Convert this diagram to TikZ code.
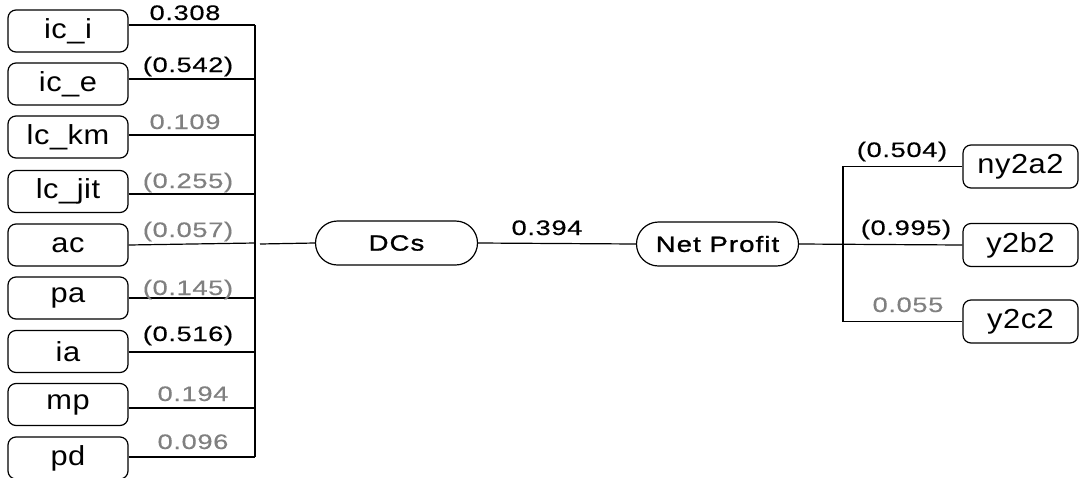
\documentclass[tikz,border=0pt]{standalone}
\usepackage{fontspec}
\usetikzlibrary{shapes.misc}
\newfontfamily\boxfont[FakeStretch=1.12,LetterSpace=2]{Liberation Sans}
\newfontfamily\latfont[FakeStretch=1.25,LetterSpace=5,FakeBold=1.2]{Liberation Sans}
\newfontfamily\wfont[FakeStretch=1.3,LetterSpace=3,FakeBold=0.4]{Liberation Sans}
\definecolor{wgray}{RGB}{128,128,128}
\tikzset{
  wire/.style={line width=1.2pt},
  factor/.style={draw, line width=1.2pt, rounded corners=8pt, minimum width=120pt,
    minimum height=42pt, inner sep=0pt, font=\boxfont\fontsize{27.5}{29}\selectfont},
  ofactor/.style={factor, minimum width=115pt, minimum height=43pt},
  latent/.style={draw, line width=1.2pt, rounded rectangle, minimum width=162pt,
    minimum height=44pt, inner sep=0pt, font=\latfont\fontsize{22}{24}\selectfont},
  wt/.style={anchor=base, inner sep=0pt, font=\wfont\fontsize{21}{23}\selectfont},
  wtg/.style={wt, text=wgray},
}
\begin{document}
\begin{tikzpicture}[x=1pt,y=-1pt]
\useasboundingbox (0,0) rectangle (1081,477);

% indicators of DCs
\node[factor] (ici)   at (68,31)    {ic\_i};
\node[factor] (ice)   at (68,84)    {ic\_e};
\node[factor] (lckm)  at (68,137)   {lc\_km};
\node[factor] (lcjit) at (68,191.5) {lc\_jit};
\node[factor] (ac)    at (68,245)   {ac};
\node[factor] (pa)    at (68,298)   {pa};
\node[factor] (ia)    at (68,351.5) {ia};
\node[factor] (mp)    at (68,404.5) {mp};
\node[factor] (pd)    at (68,458)   {pd};

% junctions on the collecting bar
\coordinate (j1) at (255,25);
\coordinate (j2) at (255,79);
\coordinate (j3) at (255,135);
\coordinate (j4) at (255,194);
\coordinate (j5) at (255,243);
\coordinate (j6) at (255,298);
\coordinate (j7) at (255,352);
\coordinate (j8) at (255,408);
\coordinate (j9) at (255,457);
\coordinate (dcin) at (260,244);

% latent variables
\node[latent] (dcs) at (396.5,243) {DCs};
\node[latent] (np)  at (717.5,244) {Net Profit};

% indicators of Net Profit
\node[ofactor] (ny2a2) at (1020.5,166.5) {ny2a2};
\node[ofactor] (y2b2)  at (1020.5,245)   {y2b2};
\node[ofactor] (y2c2)  at (1020.5,321.5) {y2c2};
\coordinate (rb) at (843,244);

% wiring, left block
\draw[wire] (ici.east |- j1) -- (j1);
\draw[wire] (ice.east |- j2) -- (j2);
\draw[wire] (lckm.east |- j3) -- (j3);
\draw[wire] (lcjit.east |- j4) -- (j4);
\draw[wire] (ac.east) -- (j5);
\draw[wire] (pa.east |- j6) -- (j6);
\draw[wire] (ia.east |- j7) -- (j7);
\draw[wire] (mp.east |- j8) -- (j8);
\draw[wire] (pd.east |- j9) -- (j9);
\draw[wire] (j1) -- (j9);
\draw[wire] (dcin) -- (dcs.west);

% structural path
\draw[wire] (dcs.east) -- (np.west);

% wiring, right block
\draw[wire] (np.east) -- (y2b2.west);
\draw[wire] (ny2a2.west) -- (ny2a2.west -| rb) -- (y2c2.west -| rb) -- (y2c2.west);

% loadings
\node[wt]  (w1) at (185,20)  {0.308};
\node[wt]  (w2) at (188,72)  {(0.542)};
\node[wtg] (w3) at (185,129) {0.109};
\node[wtg] (w4) at (188,188) {(0.255)};
\node[wtg] (w5) at (188,237) {(0.057)};
\node[wtg] (w6) at (188,295) {(0.145)};
\node[wt]  (w7) at (188,341) {(0.516)};
\node[wtg] (w8) at (193,401) {0.194};
\node[wtg] (w9) at (193,449) {0.096};
\node[wt]  (wp) at (547,235) {0.394};
\node[wt]  (r1) at (902,157) {(0.504)};
\node[wt]  (r2) at (906,235) {(0.995)};
\node[wtg] (r3) at (908,312) {0.055};
\end{tikzpicture}
\end{document}
